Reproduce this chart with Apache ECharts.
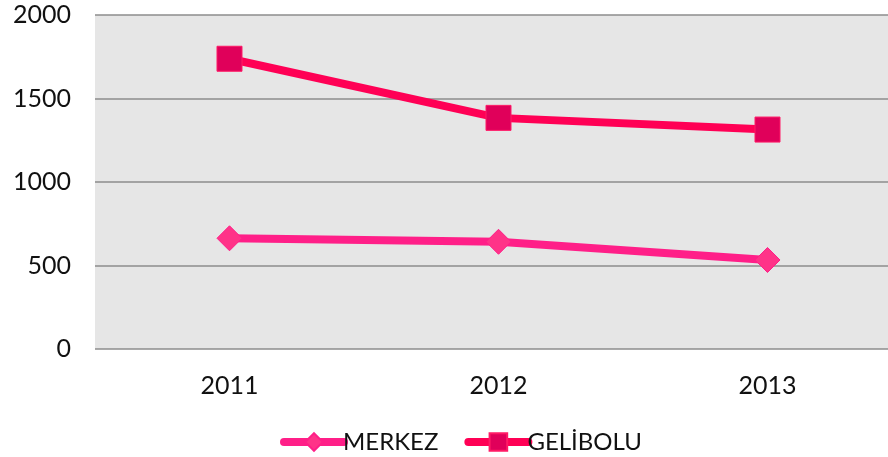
<!DOCTYPE html>
<html>
<head>
<meta charset="utf-8">
<script src="https://cdn.jsdelivr.net/npm/echarts@6/dist/echarts.min.js"></script>
<style>
  html, body { margin: 0; padding: 0; background: #fff; }
  #chart { width: 888px; height: 457px; }
</style>
</head>
<body>
<div id="chart"></div>
<script>
// kategoriler ve seriler
const years = ['2011', '2012', '2013'];
const merkez = [663, 642, 533];
const gelibolu = [1738, 1384, 1314];
const seriesNames = ['MERKEZ', 'GELİBOLU'];

const chart = echarts.init(document.getElementById('chart'));
const font = 'Lato, "DejaVu Sans", sans-serif';

const option = {
  animation: false,
  textStyle: { fontFamily: font },
  grid: {
    left: 95, width: 807, top: 15, bottom: 108,
    outerBoundsMode: 'none',
    show: true, backgroundColor: '#e6e6e6', borderWidth: 0
  },
  legend: {
    top: 425,
    left: 275,
    itemWidth: 60,
    itemHeight: 22,
    itemGap: 26,
    lineStyle: { width: 8, cap: 'round' },
    textStyle: { color: '#111', fontSize: 24, fontFamily: font, padding: [0, 0, 0, -6] },
    data: seriesNames
  },
  xAxis: {
    type: 'category',
    data: years,
    axisLine: { show: false },
    axisTick: { show: false },
    axisLabel: { color: '#111', fontSize: 25, margin: 24 }
  },
  yAxis: {
    type: 'value',
    min: 0, max: 2000, interval: 500,
    axisLine: { show: false },
    axisTick: { show: false },
    axisLabel: { color: '#111', fontSize: 25, margin: 24, formatter: v => String(v) },
    splitLine: { lineStyle: { color: '#8c8c8c', width: 1.5 } }
  },
  series: [
    {
      name: seriesNames[0],
      type: 'line',
      data: merkez,
      symbol: 'diamond',
      symbolSize: 25,
      lineStyle: { color: '#ff1f88', width: 8 },
      itemStyle: { color: '#ff3388', borderColor: '#ff1f88', borderWidth: 1 }
    },
    {
      name: seriesNames[1],
      type: 'line',
      data: gelibolu,
      symbol: 'rect',
      symbolSize: 25,
      lineStyle: { color: '#ff0055', width: 8 },
      itemStyle: { color: '#e0005a', borderColor: '#ff1a66', borderWidth: 1 }
    }
  ]
};

chart.setOption(option);
</script>
</body>
</html>
